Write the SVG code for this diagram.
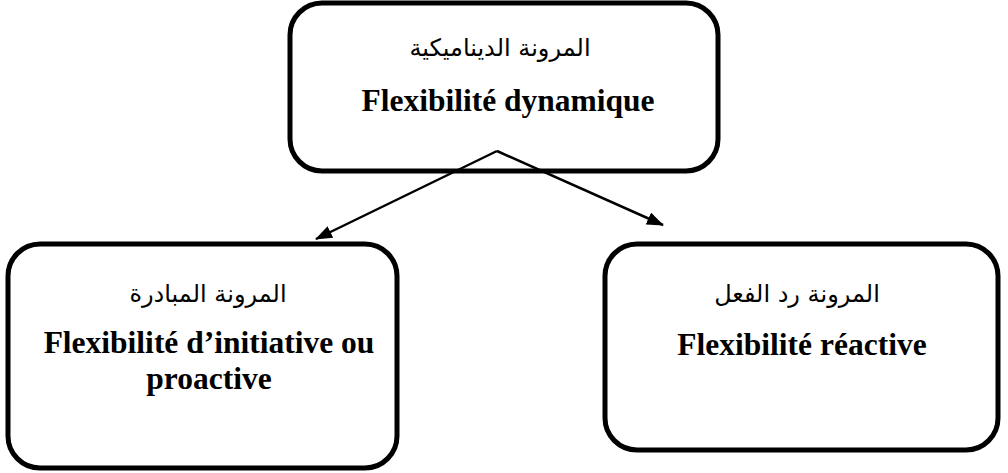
<svg xmlns="http://www.w3.org/2000/svg" width="1008" height="473" viewBox="0 0 1008 473">
<style>
.box{fill:#fff;stroke:#000;stroke-width:5}
.en{font-family:"Liberation Serif","Times New Roman",serif;font-weight:bold;font-size:31.5px;fill:#000;text-anchor:middle}
.ar{font-family:"DejaVu Sans","Noto Sans",sans-serif;font-size:24px;fill:#000;text-anchor:middle}
.conn{stroke:#000;stroke-width:2.5;fill:none}
</style>
<defs>
<marker id="ah" markerWidth="17" markerHeight="13" refX="16" refY="6.5" orient="auto" markerUnits="userSpaceOnUse" viewBox="0 0 17 13">
<path d="M0,0 L17,6.5 L0,13 Z" fill="#000"/>
</marker>
</defs>
<g id="node-top">
<rect class="box" x="290" y="3" width="428" height="168" rx="32"/>
<text class="ar" x="500" y="56" direction="rtl">المرونة الديناميكية</text>
<text class="en" x="508" y="111">Flexibilité dynamique</text>
</g>
<g id="node-left">
<rect class="box" x="8" y="244" width="389" height="224" rx="32"/>
<text class="ar" x="208" y="302" direction="rtl">المرونة المبادرة</text>
<text class="en" x="209" y="353">Flexibilité d’initiative ou</text>
<text class="en" x="209" y="389">proactive</text>
</g>
<g id="node-right">
<rect class="box" x="605" y="244" width="393" height="206" rx="32"/>
<text class="ar" x="797" y="302" direction="rtl">المرونة رد الفعل</text>
<text class="en" x="802" y="355">Flexibilité réactive</text>
</g>
<g id="connectors">
<line class="conn" x1="497" y1="151" x2="316" y2="239" marker-end="url(#ah)"/>
<line class="conn" x1="497" y1="151" x2="663" y2="225" marker-end="url(#ah)"/>
</g>
</svg>
